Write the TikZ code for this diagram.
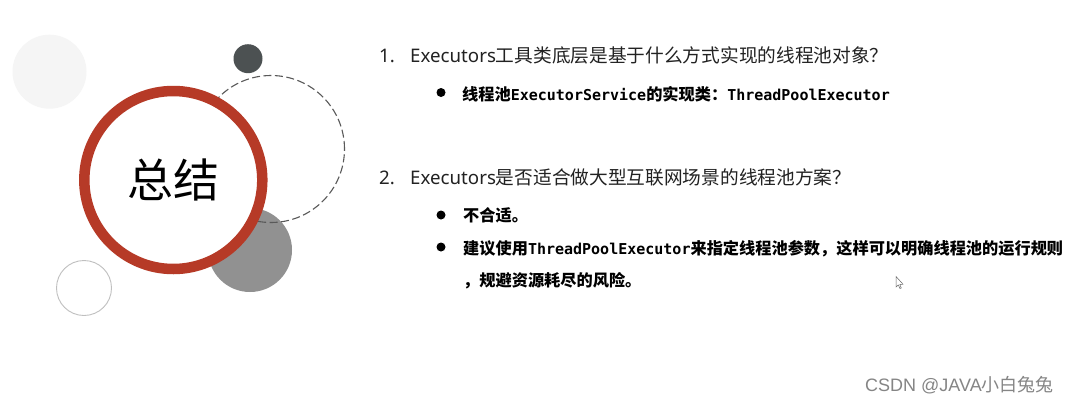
\documentclass[tikz,border=0pt]{standalone}
\usepackage{fontspec}
\setmainfont{Noto Sans}
\newfontfamily\cjk{Noto Sans CJK SC}
\newfontfamily\lat{Noto Sans}
\newfontfamily\mon{DejaVu Sans Mono}
\newfontfamily\wm{Liberation Sans}
\definecolor{ringred}{HTML}{B63A27}
\definecolor{headtext}{HTML}{222222}
\definecolor{darkdisc}{HTML}{4C5152}
\tikzset{
  x=1pt,y=-1pt,
  disc/.style={circle,inner sep=0pt,minimum size=#1},
  heading/.style={anchor=base west,inner sep=0pt,text=headtext,font=\fontsize{18.7}{21}\selectfont\lat},
  item/.style={anchor=base west,inner sep=0pt,text=black,font=\fontsize{16.2}{18}\selectfont\bfseries\cjk},
  bulletdot/.style={circle,fill=black,inner sep=0pt,minimum size=9pt},
}
\newcommand{\hc}[1]{{\cjk #1}}
\newcommand{\mo}[1]{{\fontsize{15}{18}\selectfont\mon\bfseries #1}}
\begin{document}
\begin{tikzpicture}
\useasboundingbox (0,0) rectangle (1069,402);
\fill[white] (0,0) rectangle (1069,402);
\node[disc=74pt,fill=black!4] (pale) at (49.5,71.7) {};
\node[disc=29pt,fill=darkdisc] (dark) at (248,58.7) {};
\node[disc=84pt,fill=black!43] (grey) at (250,250) {};
\node[disc=147pt,draw=black!65,line width=1.1pt,dash pattern=on 8pt off 3.5pt] (dash) at (271,149) {};
\node[disc=178pt,draw=ringred,line width=10.5pt,fill=white,font=\fontsize{46}{50}\selectfont\cjk,text=black] (ring) at (173.3,180) {总结};
\node[disc=55pt,draw=black!25,line width=0.9pt] (open) at (84,288) {};

\node[heading] (n1) at (379,62) {1.};
\node[heading] (q1) at (410,62) {Executors\hc{工具类底层是基于什么方式实现的线程池对象？}};
\node[bulletdot] (b1) at (441,92.5) {};
\node[item] (a1) at (462,100) {线程池\mo{ExecutorService}的实现类：\mo{ThreadPoolExecutor}};
\node[heading] (n2) at (379,184) {2.};
\node[heading] (q2) at (410,184) {Executors\hc{是否适合做大型互联网场景的线程池方案？}};
\node[bulletdot] (b2) at (441,215) {};
\node[item] (a2) at (463,221) {不合适。};
\node[bulletdot] (b3) at (441,247) {};
\node[item] (a3) at (463,254) {建议使用\mo{ThreadPoolExecutor}来指定线程池参数，这样可以明确线程池的运行规则};
\node[item] (a4) at (463,286) {，规避资源耗尽的风险。};
\node[anchor=base west,inner sep=0pt,text=black!48,font=\fontsize{18}{20}\selectfont\wm] (mark) at (865,391) {CSDN @JAVA\hc{小白兔兔}};
\draw[black!60,fill=white,line width=0.5pt] (896,276.5) -- (896,287) -- (898.3,285) -- (900,288.5) -- (901.3,288) -- (899.8,284.5) -- (903,284.2) -- cycle;
\end{tikzpicture}
\end{document}
